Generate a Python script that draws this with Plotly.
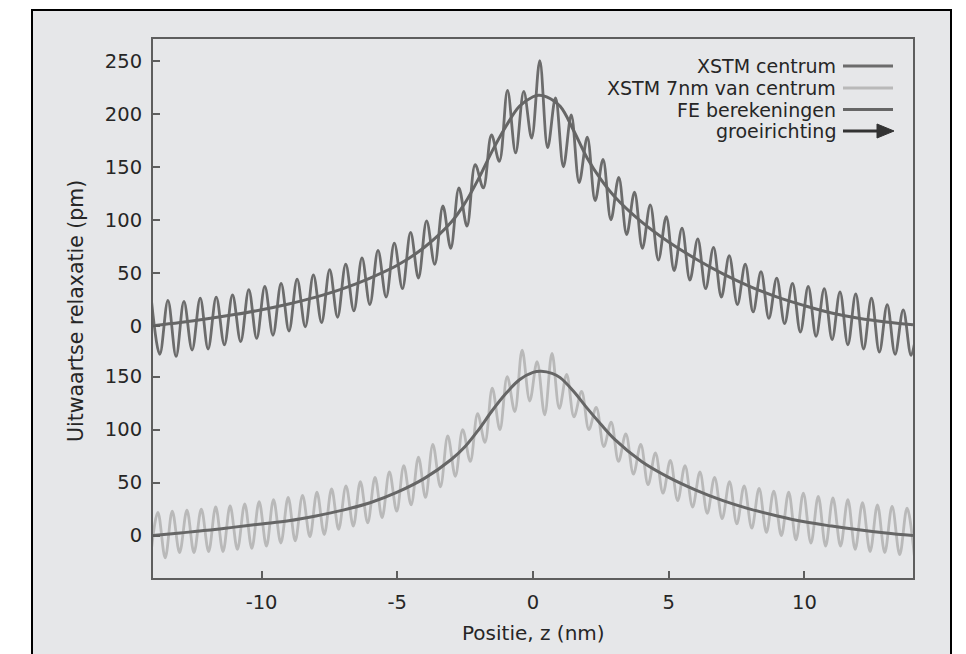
import numpy as np
import plotly.graph_objects as go

# ---------------- data ----------------
# upper panel: XSTM centre (extrema of the corrugation) and FE curve, in pm
xstm_c_x = [-14.05, -13.75, -13.45, -13.15, -12.86, -12.56, -12.26, -11.97, -11.67, -11.37,
            -11.07, -10.77, -10.47, -10.18, -9.88, -9.58, -9.28, -8.99, -8.69, -8.39,
            -8.09, -7.79, -7.49, -7.20, -6.90, -6.60, -6.30, -6.01, -5.71, -5.41,
            -5.11, -4.81, -4.51, -4.22, -3.92, -3.62, -3.32, -3.03, -2.73, -2.43,
            -2.13, -1.83, -1.53, -1.24, -0.94, -0.64, -0.34, -0.05, 0.25, 0.54,
            0.83, 1.12, 1.41, 1.70, 2.00, 2.29, 2.58, 2.87, 3.16, 3.45,
            3.74, 4.03, 4.32, 4.62, 4.91, 5.20, 5.49, 5.78, 6.07, 6.36,
            6.65, 6.94, 7.23, 7.53, 7.82, 8.11, 8.40, 8.69, 8.98, 9.27,
            9.56, 9.85, 10.14, 10.43, 10.73, 11.02, 11.31, 11.60, 11.89, 12.18,
            12.47, 12.76, 13.05, 13.34, 13.64, 13.93, 14.20]
xstm_c_y = [22, -27, 24, -29, 23, -23, 26, -22, 27, -18,
            29, -15, 34, -12, 37, -9, 40, -5, 44, -1,
            48, 3, 53, 8, 58, 14, 64, 20, 71, 27,
            78, 35, 88, 45, 99, 58, 113, 73, 130, 94,
            152, 130, 180, 155, 222, 163, 221, 177, 250, 168,
            215, 150, 199, 135, 178, 118, 157, 100, 140, 86,
            126, 73, 114, 62, 103, 52, 92, 43, 82, 35,
            74, 27, 66, 20, 58, 13, 51, 7, 45, 2,
            40, -6, 37, -10, 35, -13, 32, -18, 30, -22,
            26, -25, 20, -27, 15, -28, 10]

fe_c_x = [-14, -13, -12, -11, -10, -9, -8, -7, -6, -5, -4, -3, -2.5, -2, -1.5, -1, -0.5,
          0, 0.2, 0.5, 1, 1.5, 2, 2.5, 3, 4, 5, 6, 7, 8, 9, 10, 11, 12, 13, 14]
fe_c_y = [0, 3, 6.5, 10.5, 15, 20.5, 27, 35, 45, 57, 74, 98, 116, 139, 165, 188, 207,
          216, 217.5, 216, 207, 184, 158, 138, 122, 98, 79, 63, 49, 37, 27, 19, 12, 7, 3.5, 1]

# lower panel: XSTM 7 nm from centre and FE curve, in pm
xstm_7_x = [-14.09, -13.82, -13.55, -13.29, -13.02, -12.75, -12.49, -12.22, -11.95, -11.69,
            -11.42, -11.16, -10.89, -10.62, -10.36, -10.09, -9.82, -9.56, -9.29, -9.02,
            -8.76, -8.49, -8.22, -7.96, -7.69, -7.42, -7.16, -6.89, -6.62, -6.36,
            -6.09, -5.82, -5.56, -5.29, -5.02, -4.76, -4.49, -4.22, -3.96, -3.69,
            -3.41, -3.14, -2.86, -2.59, -2.31, -2.04, -1.77, -1.50, -1.22, -0.95,
            -0.67, -0.40, -0.12, 0.15, 0.43, 0.70, 0.97, 1.24, 1.51, 1.79,
            2.06, 2.33, 2.61, 2.88, 3.15, 3.42, 3.70, 3.97, 4.24, 4.51,
            4.79, 5.06, 5.33, 5.60, 5.88, 6.15, 6.42, 6.69, 6.97, 7.24,
            7.51, 7.78, 8.06, 8.33, 8.60, 8.87, 9.15, 9.42, 9.69, 9.96,
            10.24, 10.51, 10.78, 11.05, 11.33, 11.60, 11.87, 12.14, 12.42, 12.69,
            12.96, 13.23, 13.51, 13.78, 14.05]
xstm_7_y = [-20, 22, -21, 23, -16, 24, -16, 25, -15, 27,
            -15, 28, -13, 30, -12, 32, -10, 34, -7, 36,
            -5, 38, -1, 41, 1, 44, 6, 47, 9, 51,
            12, 55, 17, 60, 23, 66, 29, 74, 36, 86,
            46, 94, 56, 100, 70, 115, 88, 139, 100, 150,
            117, 175, 127, 164, 114, 172, 120, 152, 112, 136,
            100, 121, 84, 107, 70, 96, 58, 86, 48, 78,
            40, 71, 33, 66, 27, 60, 21, 55, 16, 51,
            11, 47, 7, 44.5, 3, 42, 0, 41, -4, 40,
            -7, 37, -10, 35.5, -10, 34, -13, 31, -15, 29,
            -16, 27.6, -18, 26, -19]

fe_7_x = [-14, -13, -12, -11, -10, -9, -8, -7, -6, -5, -4, -3, -2.5, -2, -1.5, -1, -0.5,
          0, 0.3, 0.7, 1, 1.5, 2, 2.5, 3, 4, 5, 6, 7, 8, 9, 10, 11, 12, 13, 14]
fe_7_y = [0, 2.5, 5, 8, 11, 14, 18.5, 24, 31, 41, 54, 72, 84, 100, 118, 134, 147,
          154, 155, 153, 149, 136, 120, 105, 91, 70, 55, 43, 33, 25, 18.5, 13, 9, 5.5, 2.5, 0]

x_ticks = [-10, -5, 0, 5, 10]
x_tick_labels = ["-10", "-5", "0", "5", "10"]
y_ticks_lower = [0, 50, 100, 150]
y_ticks_upper = [0, 50, 100, 150, 200, 250]
legend_labels = ["XSTM centrum", "XSTM 7nm van centrum", "FE berekeningen", "groeirichting"]

# ---------------- styling / layout ----------------
OFFSET = 198          # vertical shift of the upper panel on the shared axis
W, H = 966, 654
SH = 8                # page body margin of the html page
PL, PR, PT, PB = 153, 913, 39, 578   # plot area in screen pixels
BG = "#e6e7e9"
DARK = "#6c6c6c"
LIGHT = "#b9b9b9"
FE_COL = "#666666"
AX = "#5e5e5e"
TXT = "#262626"
FONT = "DejaVu Sans"


def px(x):
    return (x - PL) / (PR - PL)


def py(y):
    return (PB - y) / (PB - PT)


fig = go.Figure()
fig.add_trace(go.Scatter(x=xstm_7_x, y=xstm_7_y, mode="lines",
                         line=dict(color=LIGHT, width=2.8, shape="spline", smoothing=1.0)))
fig.add_trace(go.Scatter(x=fe_7_x, y=fe_7_y, mode="lines",
                         line=dict(color=FE_COL, width=3, shape="spline")))
fig.add_trace(go.Scatter(x=xstm_c_x, y=np.array(xstm_c_y) + OFFSET, mode="lines",
                         line=dict(color=DARK, width=2.8, shape="spline", smoothing=1.0)))
fig.add_trace(go.Scatter(x=fe_c_x, y=np.array(fe_c_y) + OFFSET, mode="lines",
                         line=dict(color=FE_COL, width=3, shape="spline")))

tickvals = y_ticks_lower + [v + OFFSET for v in y_ticks_upper]
ticktext = [str(v) for v in y_ticks_lower] + [str(v) for v in y_ticks_upper]

fig.update_layout(
    width=W, height=H,
    margin=dict(l=PL - SH, r=W - (PR - SH), t=PT - SH, b=H - (PB - SH)),
    paper_bgcolor="white", plot_bgcolor=BG,
    showlegend=False,
    font=dict(family=FONT, size=20, color=TXT),
    xaxis=dict(range=[-14, 14], tickvals=x_ticks, ticktext=x_tick_labels, ticks="inside",
               ticklen=7, tickwidth=1.5, ticklabelstandoff=6,
               tickcolor=AX, showline=True, linecolor=AX, linewidth=2, mirror=True,
               showgrid=False, zeroline=False, tickfont=dict(size=19.5, color=TXT)),
    yaxis=dict(range=[-40, 468.5], tickvals=tickvals, ticktext=ticktext, ticks="inside",
               ticklen=7, tickwidth=1.5, ticklabelstandoff=5, tickcolor=AX, showline=True,
               linecolor=AX, linewidth=2, mirror=True, showgrid=False, zeroline=False,
               tickfont=dict(size=19.5, color=TXT)),
)

shapes = [dict(type="rect", xref="paper", yref="paper", x0=px(32), x1=px(951),
               y0=py(680), y1=py(10), line=dict(color="black", width=2),
               fillcolor=BG, layer="below")]
annotations = [
    dict(text="Positie, z (nm)", xref="paper", yref="paper", x=px(533), y=py(633),
         showarrow=False, font=dict(size=20, color=TXT), xanchor="center", yanchor="middle"),
    dict(text="Uitwaartse relaxatie (pm)", xref="paper", yref="paper", x=px(76), y=py(311),
         showarrow=False, textangle=-90, font=dict(size=20.5, color=TXT),
         xanchor="center", yanchor="middle"),
]

leg_y = [66, 88, 109.5, 131]
leg_cols = [DARK, LIGHT, FE_COL]
for i, lab in enumerate(legend_labels):
    annotations.append(dict(text=lab, xref="paper", yref="paper", x=px(838), y=py(leg_y[i]),
                            showarrow=False, xanchor="right", yanchor="middle",
                            font=dict(size=19, color=TXT)))
    if i < 3:
        shapes.append(dict(type="line", xref="paper", yref="paper", x0=px(843), x1=px(893),
                           y0=py(leg_y[i]), y1=py(leg_y[i]),
                           line=dict(color=leg_cols[i], width=3)))
# growth direction arrow
shapes.append(dict(type="line", xref="paper", yref="paper", x0=px(843), x1=px(880),
                   y0=py(leg_y[3]), y1=py(leg_y[3]), line=dict(color="#333333", width=3)))
shapes.append(dict(type="path", xref="paper", yref="paper",
                   path=f"M {px(877)},{py(leg_y[3]-7)} L {px(894)},{py(leg_y[3])} "
                        f"L {px(877)},{py(leg_y[3]+7)} Z",
                   fillcolor="#333333", line=dict(color="#333333", width=1)))

fig.update_layout(shapes=shapes, annotations=annotations)
fig.write_html("out.html")
